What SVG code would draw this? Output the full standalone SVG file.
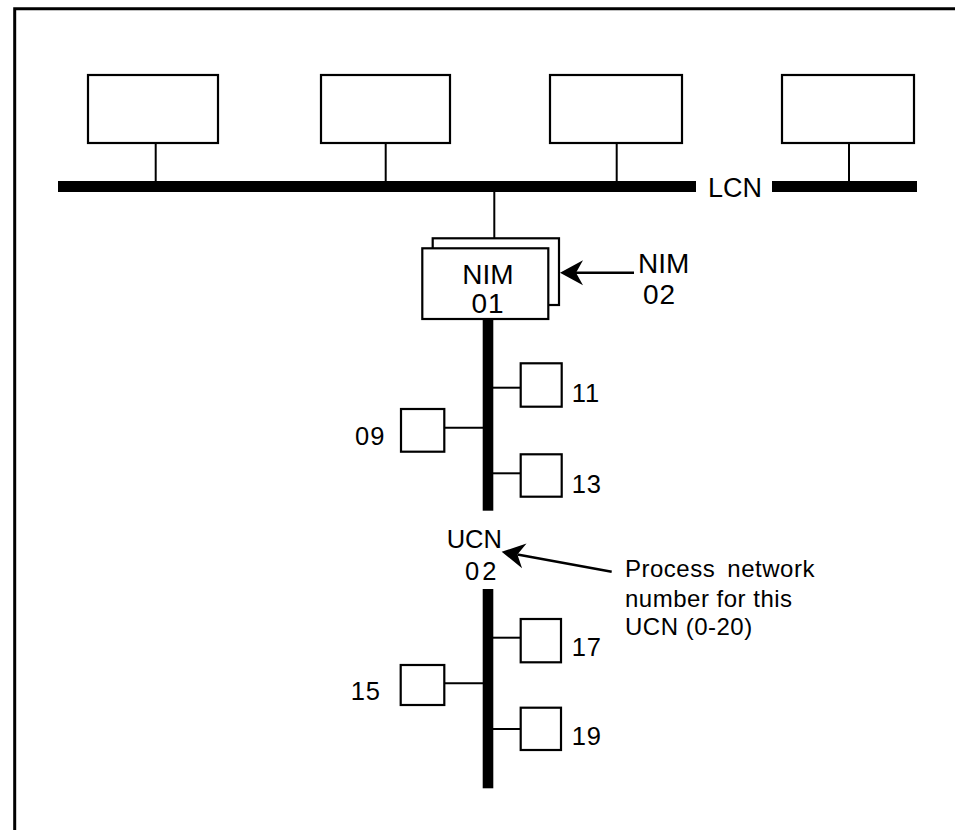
<svg xmlns="http://www.w3.org/2000/svg" width="955" height="830" viewBox="0 0 955 830">
  <style>
    .frame { fill: none; stroke: #000; stroke-width: 3; }
    .box { fill: #fff; stroke: #000; stroke-width: 2.2; }
    .stub { stroke: #000; stroke-width: 2; fill: none; }
    .bus { fill: #000; stroke: none; }
    .arrow { stroke: #000; stroke-width: 2.5; fill: none; marker-end: url(#head); }
    .lbl { font-family: "Liberation Sans", Arial, sans-serif; fill: #000; }
    .big { font-size: 28px; }
    .mid { font-size: 25.5px; letter-spacing: 1px; }
    .note { font-size: 24px; letter-spacing: 0.5px; }
  </style>
  <defs>
    <marker id="head" viewBox="-9 -15 27 30" markerWidth="27" markerHeight="30" refX="0" refY="0" orient="auto" markerUnits="userSpaceOnUse">
      <path d="M16,0 L-7,-12.5 L0,0 L-7,12.5 z" fill="#000"/>
    </marker>
  </defs>
  <rect width="955" height="830" fill="#fff"/>
  <path class="frame" d="M14.7,830 L14.7,8.7 L955,8.7"/>

  <g id="connectors">
    <rect class="bus" x="58" y="181" width="638" height="11"/>
    <rect class="bus" x="772" y="181" width="145" height="11"/>
    <line class="stub" x1="155.7" y1="143" x2="155.7" y2="181"/>
    <line class="stub" x1="385.7" y1="143" x2="385.7" y2="181"/>
    <line class="stub" x1="616.7" y1="143" x2="616.7" y2="181"/>
    <line class="stub" x1="849" y1="143" x2="849" y2="181"/>
    <line class="stub" x1="494.3" y1="192" x2="494.3" y2="238.3"/>
    <rect class="bus" x="482.7" y="319" width="10.6" height="191.7"/>
    <rect class="bus" x="482.7" y="589" width="10.6" height="199.3"/>
    <line class="stub" x1="493" y1="387.7" x2="520.7" y2="387.7"/>
    <line class="stub" x1="444.3" y1="427.7" x2="483" y2="427.7"/>
    <line class="stub" x1="493" y1="473.3" x2="520.7" y2="473.3"/>
    <line class="stub" x1="493" y1="637.7" x2="520.7" y2="637.7"/>
    <line class="stub" x1="444.3" y1="683.3" x2="483" y2="683.3"/>
    <line class="stub" x1="493" y1="729" x2="520.7" y2="729"/>
    <line class="arrow" x1="634" y1="272.7" x2="576" y2="272.7"/>
    <line class="arrow" x1="611.7" y1="571.7" x2="517.4" y2="554.6"/>
  </g>

  <g id="lcn-label">
    <text class="lbl" x="708" y="197" font-size="27">LCN</text>
  </g>

  <g id="station1"><rect class="box" x="88" y="75" width="130" height="68"/></g>
  <g id="station2"><rect class="box" x="321" y="75" width="129" height="68"/></g>
  <g id="station3"><rect class="box" x="550" y="75" width="132" height="68"/></g>
  <g id="station4"><rect class="box" x="782" y="75" width="132" height="68"/></g>

  <g id="nim02-back"><rect class="box" x="432.7" y="238.3" width="126.3" height="66.7"/></g>
  <g id="nim01">
    <rect class="box" x="422.3" y="248.3" width="126" height="70.7"/>
    <text class="lbl big" x="488" y="284.3" text-anchor="middle">NIM</text>
    <text class="lbl big" x="488" y="313.3" text-anchor="middle" letter-spacing="1">01</text>
  </g>
  <g id="nim02-label">
    <text class="lbl big" x="638" y="272.7">NIM</text>
    <text class="lbl big" x="643" y="304" letter-spacing="1">02</text>
  </g>

  <g id="node11">
    <rect class="box" x="520.7" y="363.3" width="41" height="43.4"/>
    <text class="lbl mid" x="571.7" y="401.7">11</text>
  </g>
  <g id="node09">
    <rect class="box" x="401" y="409" width="43.3" height="42.7"/>
    <text class="lbl mid" x="355" y="445">09</text>
  </g>
  <g id="node13">
    <rect class="box" x="520.7" y="454.3" width="41" height="42.4"/>
    <text class="lbl mid" x="571.7" y="493.3">13</text>
  </g>

  <g id="ucn02-label">
    <text class="lbl" x="446.7" y="548.3" font-size="25.5">UCN</text>
    <text class="lbl" x="465" y="580" font-size="25.5" letter-spacing="3">02</text>
  </g>
  <g id="note">
    <text class="lbl note" x="625" y="577" word-spacing="5">Process network</text>
    <text class="lbl note" x="625" y="607">number for this</text>
    <text class="lbl note" x="625" y="635">UCN (0-20)</text>
  </g>

  <g id="node17">
    <rect class="box" x="520.7" y="619" width="40.3" height="43.3"/>
    <text class="lbl mid" x="571.7" y="656">17</text>
  </g>
  <g id="node15">
    <rect class="box" x="400.7" y="665" width="43.6" height="40"/>
    <text class="lbl mid" x="350.7" y="700">15</text>
  </g>
  <g id="node19">
    <rect class="box" x="520.7" y="707.7" width="40.3" height="42.3"/>
    <text class="lbl mid" x="571.7" y="745">19</text>
  </g>
</svg>
